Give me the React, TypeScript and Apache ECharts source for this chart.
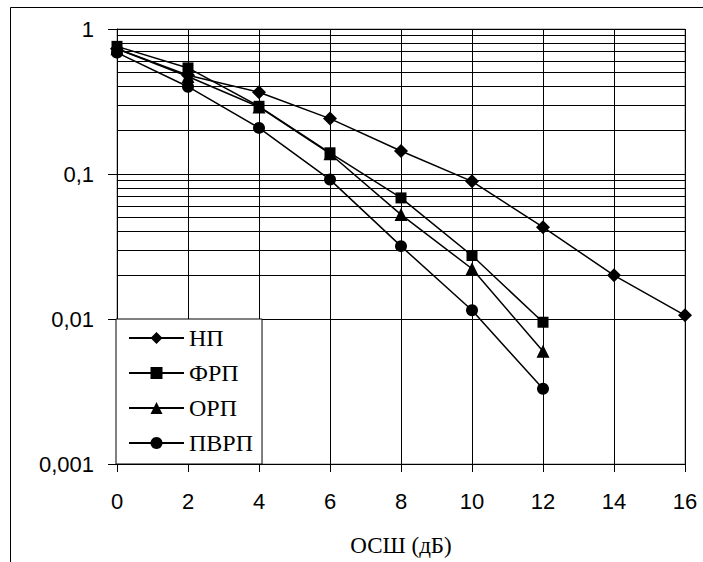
import React, { useEffect, useRef } from "react";
import * as echarts from "echarts";

// Data
const snr = [0, 2, 4, 6, 8, 10, 12, 14, 16];
const npValues = [0.73, 0.48, 0.366, 0.241, 0.144, 0.089, 0.043, 0.02, 0.0106];
const frpValues = [0.759, 0.539, 0.293, 0.14, 0.0684, 0.0274, 0.0095];
const orpValues = [0.73, 0.47, 0.29, 0.138, 0.0525, 0.0222, 0.006];
const pvrpValues = [0.687, 0.4, 0.208, 0.0915, 0.0318, 0.0115, 0.0033];
const seriesNames = ["НП", "ФРП", "ОРП", "ПВРП"];
const seriesSymbols = ["diamond", "rect", "triangle", "circle"];
const seriesSymbolSizes = [14, 11, 13, 12];
const yTickValues = [0.001, 0.01, 0.1, 1];
const yTickLabels = ["0,001", "0,01", "0,1", "1"];
const minorGridValues = [
  0.002, 0.003, 0.004, 0.005, 0.006, 0.007, 0.008, 0.009,
  0.02, 0.03, 0.04, 0.05, 0.06, 0.07, 0.08, 0.09,
  0.2, 0.3, 0.4, 0.5, 0.6, 0.7, 0.8, 0.9,
];
const xAxisTitle = "ОСШ (дБ)";

export default function App() {
  const ref = useRef<HTMLDivElement>(null);
  useEffect(() => {
    if (!ref.current) return;
    const chart = echarts.init(ref.current, undefined, { renderer: "svg" });
    const allValues = [npValues, frpValues, orpValues, pvrpValues];
    const dataSeries = seriesNames.map((name, si) => ({
      name,
      type: "line",
      z: 3,
      data: allValues[si].map((v, i) => [snr[i], v]),
      symbol: seriesSymbols[si],
      symbolSize: seriesSymbolSizes[si],
      lineStyle: { color: "#000", width: 1.5 },
      itemStyle: { color: "#000" },
      silent: true,
    }));
    chart.setOption({
      animation: false,
      backgroundColor: "#fff",
      grid: {
        left: 117,
        right: 18,
        top: 29,
        bottom: 97,
        show: true,
        borderColor: "#888",
        borderWidth: 1,
        backgroundColor: "transparent",
      },
      xAxis: {
        type: "value",
        min: 0,
        max: 16,
        interval: 2,
        name: xAxisTitle,
        nameLocation: "middle",
        nameGap: 70,
        nameTextStyle: {
          fontFamily: "Liberation Serif",
          fontSize: 23,
          color: "#000",
        },
        axisLine: { show: true, lineStyle: { color: "#000", width: 1 } },
        axisTick: { show: true, inside: false, length: 8, lineStyle: { color: "#000" } },
        axisLabel: {
          margin: 26,
          fontFamily: "Liberation Sans",
          fontSize: 22,
          color: "#000",
        },
        splitLine: { show: true, lineStyle: { color: "#000", width: 1 } },
      },
      yAxis: {
        type: "log",
        logBase: 10,
        min: 0.001,
        max: 1,
        axisLine: { show: true, lineStyle: { color: "#000", width: 1 } },
        axisTick: { show: true, inside: false, length: 9, lineStyle: { color: "#000" } },
        axisLabel: {
          margin: 23,
          fontFamily: "Liberation Sans",
          fontSize: 22,
          color: "#000",
          formatter: (v: number) => {
            let best = 0;
            for (let i = 0; i < yTickValues.length; i++) {
              if (Math.abs(Math.log10(v) - Math.log10(yTickValues[i])) <
                  Math.abs(Math.log10(v) - Math.log10(yTickValues[best]))) best = i;
            }
            return yTickLabels[best];
          },
        },
        splitLine: { show: true, lineStyle: { color: "#000", width: 1 } },
      },
      legend: {
        orient: "vertical",
        left: 116,
        top: 319,
        itemWidth: 55,
        itemHeight: 15,
        itemGap: 11,
        padding: [7, 9, 9, 12],
        backgroundColor: "#fff",
        borderColor: "#000",
        borderWidth: 1,
        borderRadius: 0,
        selectedMode: false,
        textStyle: {
          fontFamily: "Liberation Serif",
          fontSize: 24,
          lineHeight: 24,
          color: "#000",
        },
        data: seriesNames,
      },
      graphic: [
        {
          type: "rect",
          shape: { x: 10.5, y: 7.5, width: 720, height: 600 },
          style: { fill: "none", stroke: "#000", lineWidth: 1 },
          silent: true,
          z: 10,
        },
      ],
      series: [
        {
          name: "minor-grid",
          type: "line",
          data: [],
          z: 1,
          silent: true,
          markLine: {
            z: 1,
            silent: true,
            symbol: "none",
            animation: false,
            label: { show: false },
            lineStyle: { color: "#000", width: 1, type: "solid" },
            emphasis: { disabled: true },
            data: minorGridValues.map((v) => ({ yAxis: v })),
          },
        },
        ...dataSeries,
      ],
    });
    return () => chart.dispose();
  }, []);
  return (
    <div
      ref={ref}
      style={{ position: "fixed", left: 0, top: 0, width: 703, height: 562 }}
    />
  );
}
